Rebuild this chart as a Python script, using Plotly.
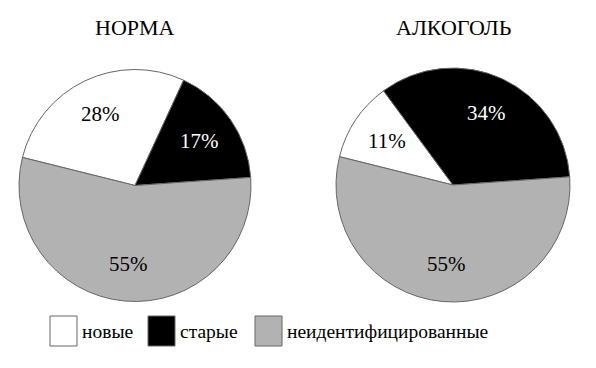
import math
import plotly.graph_objects as go

labels = ["новые", "старые", "неидентифицированные"]
norma_values = [28, 17, 55]
alco_values = [11, 34, 55]
titles = ["НОРМА", "АЛКОГОЛЬ"]
colors = ["#ffffff", "#000000", "#b2b2b2"]
text_colors = ["#000000", "#ffffff", "#000000"]

OFF = 8  # page body margin
W, H = 596 - OFF, 368 - OFF
FONT = "Liberation Serif"
ROT = 284


def px(x):
    return (x - OFF) / W


def py(y):
    return 1 - (y - OFF) / H


fig = go.Figure()

# pie geometry in pixels: (left, right, top, bottom)
boxes = [(19, 251, 69, 302), (336, 570, 68, 302)]

for vals, (l, r, t, b), title in zip([norma_values, alco_values], boxes, titles):
    fig.add_trace(go.Pie(
        labels=labels, values=vals, sort=False, direction="clockwise",
        rotation=ROT, domain=dict(x=[px(l), px(r)], y=[py(b), py(t)]),
        marker=dict(colors=colors, line=dict(color="#666666", width=1)),
        textinfo="none", showlegend=False, hoverinfo="label+percent",
    ))
    # percentage labels placed at mid-angle of each slice
    cx, cy = (l + r) / 2, (t + b) / 2
    R = min(r - l, b - t) / 2
    total = sum(vals)
    acc = 0
    for v, tc in zip(vals, text_colors):
        ang = math.radians(ROT + (acc + v / 2) / total * 360)
        acc += v
        rr = 0.68 * R
        fig.add_annotation(text=f"{v}%", x=px(cx + rr * math.sin(ang)), y=py(cy - rr * math.cos(ang)),
                           xref="paper", yref="paper", showarrow=False,
                           font=dict(family=FONT, size=21, color=tc),
                           xanchor="center", yanchor="middle")
    fig.add_annotation(text=title, x=px(cx), y=py(27), xref="paper", yref="paper",
                       showarrow=False, font=dict(family=FONT, size=22, color="#000"),
                       xanchor="center", yanchor="middle")

# legend (boxes + labels)
box_x = [50, 148, 255]
for lab, col, bx in zip(labels, colors, box_x):
    fig.add_shape(type="rect", xref="paper", yref="paper",
                  x0=px(bx), x1=px(bx + 27), y0=py(346), y1=py(316),
                  fillcolor=col, line=dict(color="#666666", width=1))
    fig.add_annotation(text=lab, x=px(bx + 30), y=py(331), xref="paper", yref="paper",
                       showarrow=False, font=dict(family=FONT, size=19.5, color="#000"),
                       xanchor="left", yanchor="middle")

fig.update_layout(width=W, height=H, margin=dict(l=0, r=0, t=0, b=0),
                  paper_bgcolor="white", plot_bgcolor="white")

fig.write_html("out.html")
